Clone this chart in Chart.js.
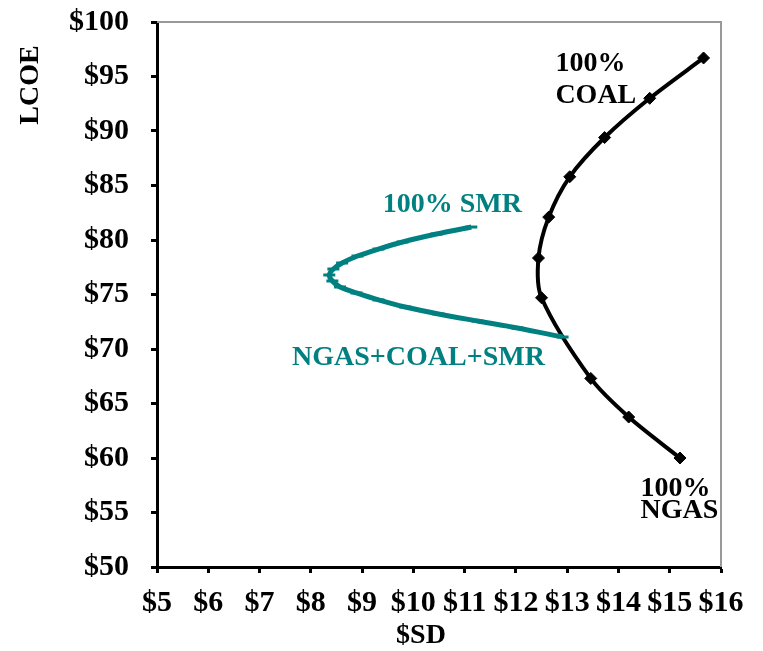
<!DOCTYPE html>
<html>
<head>
<meta charset="utf-8">
<script src="https://cdn.jsdelivr.net/npm/chart.js@4.4.1/dist/chart.umd.min.js"></script>
<style>
  html, body { margin: 0; padding: 0; background: #fff; }
  #wrap { width: 763px; height: 651px; }
</style>
</head>
<body>
<div id="wrap"><canvas id="plot-frontier"></canvas></div>
<script>
// NGAS + COAL frontier (black)
const ngasCoalSD = [15.20, 14.20, 13.46, 12.50, 12.44, 12.64, 13.05, 13.73, 14.61, 15.66];
const ngasCoalLCOE = [60.0, 63.76, 67.3, 74.7, 78.35, 82.1, 85.8, 89.4, 93.0, 96.7];

// NGAS + COAL + SMR frontier (teal)
const smrSD = [11.13, 10.45, 9.79, 9.32, 8.91, 8.61, 8.44, 8.36, 8.42, 8.57, 8.89, 9.32, 9.84, 10.49, 11.25, 12.03, 12.91];
const smrLCOE = [81.19, 80.55, 79.82, 79.17, 78.53, 77.89, 77.34, 76.79, 76.24, 75.69, 75.14, 74.5, 73.85, 73.21, 72.57, 71.93, 71.1];

const xTicks = [5, 6, 7, 8, 9, 10, 11, 12, 13, 14, 15, 16];
const yTicks = [50, 55, 60, 65, 70, 75, 80, 85, 90, 95, 100];

const teal = '#008080';
const serif = '"Liberation Serif", "Times New Roman", serif';

const plotNgasCoal = [];
for (let i = 0; i < ngasCoalSD.length; i++) {
    plotNgasCoal.push({ x: ngasCoalSD[i], y: ngasCoalLCOE[i] });
}
const plotSmr = [];
for (let i = 0; i < smrSD.length; i++) {
    plotSmr.push({ x: smrSD[i], y: smrLCOE[i] });
}

// labels, axis titles and grey frame
const extras = {
    id: 'extras',
    afterDraw(chart) {
        const c = chart.ctx;
        const a = chart.chartArea;
        const xs = chart.scales.x;
        const ys = chart.scales.y;

        c.save();
        c.strokeStyle = '#999999';
        c.lineWidth = 2;
        c.beginPath();
        c.moveTo(a.left, a.top);
        c.lineTo(a.right, a.top);
        c.lineTo(a.right, a.bottom);
        c.stroke();

        c.font = 'bold 28px ' + serif;
        c.textBaseline = 'middle';

        c.fillStyle = teal;
        c.textAlign = 'center';
        c.fillText('100% SMR', xs.getPixelForValue(10.76), ys.getPixelForValue(83.2));
        c.fillText('NGAS+COAL+SMR', xs.getPixelForValue(10.10), ys.getPixelForValue(69.2));

        c.fillStyle = '#000';
        c.textAlign = 'left';
        c.fillText('100%', xs.getPixelForValue(12.77), ys.getPixelForValue(96.2));
        c.fillText('COAL', xs.getPixelForValue(12.77), ys.getPixelForValue(93.2));
        c.fillText('100%', xs.getPixelForValue(14.43), ys.getPixelForValue(57.2));
        c.fillText('NGAS', xs.getPixelForValue(14.43), ys.getPixelForValue(55.2));

        c.textAlign = 'center';
        c.fillText('$SD', 421, 636);

        c.translate(31, 85);
        c.rotate(-Math.PI / 2);
        c.fillText('LCOE', 0, 0);
        c.restore();
    }
};

const ctx = document.getElementById('plot-frontier').getContext('2d');
const chart = new Chart(ctx, {
    type: 'scatter',
    data: {
        datasets: [{
            data: plotSmr,
            showLine: true,
            borderColor: teal,
            borderWidth: 5,
            tension: 0.3,
            pointStyle: 'line',
            pointRadius: 6,
            pointBorderWidth: 3,
            pointBorderColor: teal,
            pointBackgroundColor: teal,
        }, {
            data: plotNgasCoal,
            showLine: true,
            borderColor: '#000',
            borderWidth: 4,
            tension: 0.3,
            pointStyle: 'rectRot',
            pointRadius: 6,
            pointBorderWidth: 1,
            pointBorderColor: '#000',
            pointBackgroundColor: '#000',
        }]
    },
    options: {
        responsive: true,
        maintainAspectRatio: false,
        animation: false,
        layout: {
            padding: { left: 0, right: 42, top: 22, bottom: 0 }
        },
        plugins: {
            legend: { display: false },
            tooltip: { enabled: false }
        },
        scales: {
            x: {
                type: 'linear',
                min: 5,
                max: 16,
                afterBuildTicks: (s) => { s.ticks = xTicks.map(v => ({ value: v })); },
                afterFit: (s) => { s.height = 84; s.paddingLeft = 0; s.paddingRight = 0; },
                border: { display: true, color: '#000', width: 3 },
                grid: { drawOnChartArea: false, drawTicks: true, tickLength: 6, tickWidth: 3, tickColor: '#000' },
                ticks: {
                    padding: 12,
                    color: '#000',
                    maxRotation: 0,
                    autoSkip: false,
                    font: { family: serif, size: 30, weight: 'bold' },
                    callback: (v) => '$' + v
                }
            },
            y: {
                type: 'linear',
                min: 50,
                max: 100,
                afterBuildTicks: (s) => { s.ticks = yTicks.map(v => ({ value: v })); },
                afterFit: (s) => { s.width = 157; s.paddingTop = 0; s.paddingBottom = 0; },
                border: { display: true, color: '#000', width: 3 },
                grid: { drawOnChartArea: false, drawTicks: true, tickLength: 6, tickWidth: 3, tickColor: '#000' },
                ticks: {
                    padding: 22,
                    color: '#000',
                    autoSkip: false,
                    font: { family: serif, size: 30, weight: 'bold' },
                    callback: (v) => '$' + v
                }
            }
        }
    },
    plugins: [extras]
});
</script>
</body>
</html>
